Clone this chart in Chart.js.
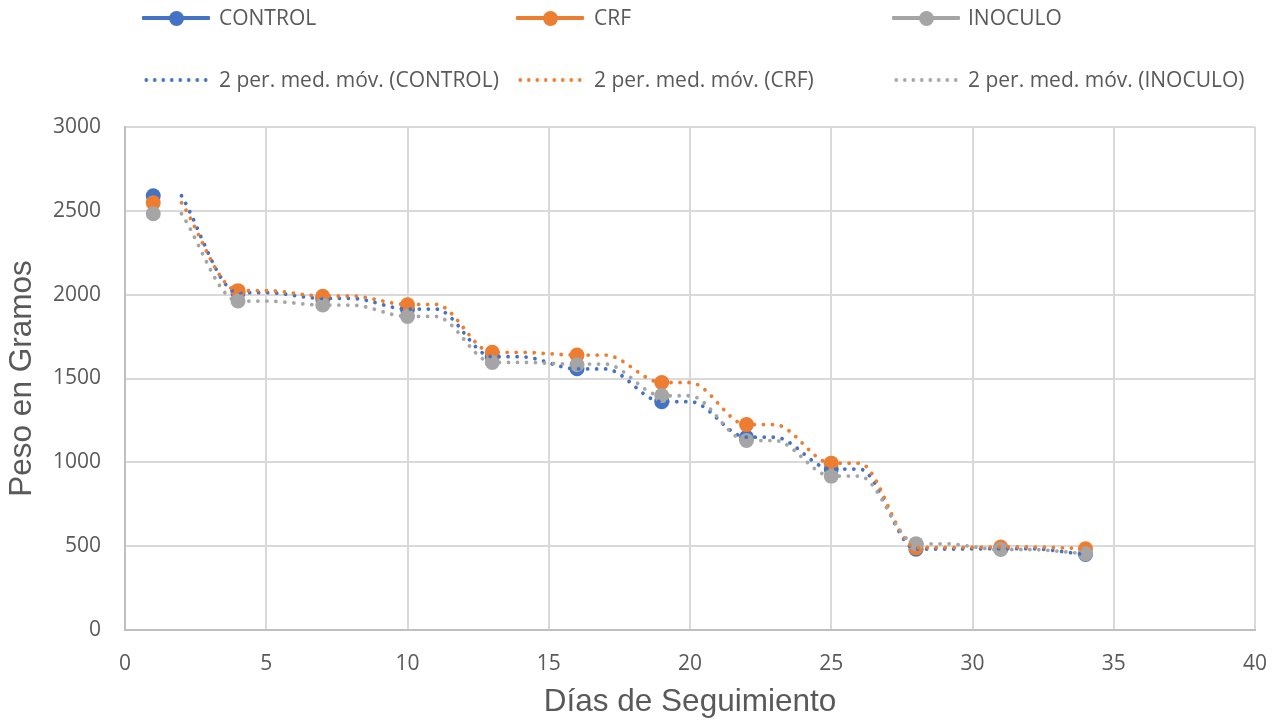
<!DOCTYPE html>
<html lang="es">
<head>
<meta charset="utf-8">
<title>Peso en Gramos por Días de Seguimiento</title>
<script src="https://cdn.jsdelivr.net/npm/chart.js@4.4.1/dist/chart.umd.min.js"></script>
<style>
  html, body { margin: 0; padding: 0; background: #ffffff; }
  #wrap { position: relative; width: 1274px; height: 721px; overflow: hidden; }
  #chart { position: absolute; left: 0; top: 0; }
  .lg { position: absolute; font-family: "Open Sans", sans-serif; font-size: 21px; color: #595959;
        line-height: 24px; white-space: nowrap; }
  .sw { position: absolute; height: 4px; border-radius: 1px; }
  .mk { position: absolute; width: 15px; height: 15px; border-radius: 50%; }
  .dt { position: absolute; height: 4px; background-size: 8.5px 4px; background-repeat: repeat-x; }
</style>
</head>
<body>
<div id="wrap">
  <canvas id="chart" width="1274" height="721"></canvas>
  <div id="legend"></div>
</div>
<script>
// Measurement days
const dias = [1, 4, 7, 10, 13, 16, 19, 22, 25, 28, 31, 34];

// Weight (g) per treatment
const control = [2590, 2010, 1975, 1912, 1630, 1558, 1362, 1150, 960, 482, 485, 450];
const crf     = [2548, 2024, 1990, 1940, 1656, 1640, 1476, 1225, 995, 490, 495, 485];
const inoculo = [2483, 1962, 1938, 1870, 1596, 1582, 1398, 1130, 918, 515, 480, 455];

// 2-period moving-average trendlines, as plotted
const mmX = [2, 4, 5, 7, 8, 10, 11, 13, 14, 16, 17, 19, 20, 22, 23, 25, 26, 28, 29, 31, 32, 34];
const mmControl = [2590, 2012, 2012, 1978, 1978, 1914, 1914, 1630, 1630, 1557, 1557, 1362, 1362, 1150, 1150, 960, 960, 483, 483, 485, 485, 450];
const mmCrf     = [2548, 2024, 2024, 1992, 1992, 1942, 1942, 1656, 1656, 1640, 1640, 1476, 1476, 1225, 1225, 995, 995, 492, 492, 495, 495, 485];
const mmInoculo = [2483, 1962, 1962, 1938, 1938, 1870, 1870, 1596, 1596, 1586, 1586, 1397, 1397, 1130, 1130, 918, 918, 514, 514, 480, 480, 455];

// Axis ticks
const xTicks = [0, 5, 10, 15, 20, 25, 30, 35, 40];
const yTicks = [0, 500, 1000, 1500, 2000, 2500, 3000];

const series = [
  { name: 'CONTROL', color: '#4472C4', y: control, mm: mmControl },
  { name: 'CRF',     color: '#ED7D31', y: crf,     mm: mmCrf },
  { name: 'INOCULO', color: '#A5A5A5', y: inoculo, mm: mmInoculo }
];

const pts = (xs, ys) => xs.map((x, i) => ({ x: x, y: ys[i] }));

const datasets = [];
series.forEach((s, i) => {
  datasets.push({
    label: s.name,
    data: pts(dias, s.y),
    showLine: false,
    pointRadius: 7.5,
    pointHoverRadius: 7.5,
    pointBorderWidth: 0,
    backgroundColor: s.color,
    borderColor: s.color,
    order: 10 - i
  });
});
series.forEach((s, i) => {
  datasets.push({
    label: '2 per. med. móv. (' + s.name + ')',
    data: pts(mmX, s.mm),
    showLine: true,
    pointRadius: 0,
    borderColor: s.color,
    borderWidth: 3.8,
    borderDash: [0.01, 9],
    borderCapStyle: 'round',
    cubicInterpolationMode: 'monotone',
    fill: false,
    order: 3 - i
  });
});

const tickFont = { family: '"Open Sans", sans-serif', size: 21 };
const titleFont = { family: '"Liberation Sans", Arial, sans-serif', size: 31.5 };
const plain = (v) => String(v);

new Chart(document.getElementById('chart'), {
  type: 'scatter',
  data: { datasets: datasets },
  options: {
    responsive: false,
    animation: false,
    layout: { padding: { top: 127, right: 19, left: 0, bottom: 0 } },
    plugins: { legend: { display: false }, tooltip: { enabled: false } },
    scales: {
      x: {
        type: 'linear', min: 0, max: 40,
        afterBuildTicks: (sc) => { sc.ticks = xTicks.map(v => ({ value: v })); },
        afterFit: (sc) => { sc.height = 91; sc.paddingLeft = 0; sc.paddingRight = 0; },
        ticks: { font: tickFont, color: '#595959', padding: 21, callback: plain },
        grid: { color: '#D9D9D9', lineWidth: 2, drawTicks: false },
        border: { color: '#BFBFBF', width: 2 },
        title: { display: true, text: 'Días de Seguimiento', font: titleFont, color: '#595959', padding: { top: 0, bottom: 0 } }
      },
      y: {
        type: 'linear', min: 0, max: 3000,
        afterBuildTicks: (sc) => { sc.ticks = yTicks.map(v => ({ value: v })); },
        afterFit: (sc) => { sc.width = 125; sc.paddingTop = 0; sc.paddingBottom = 0; },
        ticks: { font: tickFont, color: '#595959', padding: 24, callback: plain },
        grid: { color: '#D9D9D9', lineWidth: 2, drawTicks: false },
        border: { color: '#BFBFBF', width: 2 },
        title: { display: true, text: 'Peso en Gramos', font: titleFont, color: '#595959', padding: { top: 3, bottom: 0 } }
      }
    }
  }
});

// Legend: markers row and trendline row
const legend = document.getElementById('legend');
const cols = [142, 516, 892];
const textX = [219, 594, 968];
const rowY = [18, 80];
series.forEach((s, i) => {
  const sw = document.createElement('div');
  sw.className = 'sw';
  sw.style.cssText = `left:${cols[i]}px;top:${rowY[0] - 2}px;width:68px;background:${s.color};`;
  legend.appendChild(sw);
  const mk = document.createElement('div');
  mk.className = 'mk';
  mk.style.cssText = `left:${cols[i] + 34 - 7.5}px;top:${rowY[0] - 7.5}px;background:${s.color};`;
  legend.appendChild(mk);
  const t1 = document.createElement('div');
  t1.className = 'lg';
  t1.style.cssText = `left:${textX[i]}px;top:${rowY[0] - 13}px;`;
  t1.textContent = s.name;
  legend.appendChild(t1);

  const dt = document.createElement('div');
  dt.className = 'dt';
  dt.style.cssText = `left:${cols[i]}px;top:${rowY[1] - 2}px;width:68px;` +
    `background-image:radial-gradient(circle, ${s.color} 1.6px, rgba(255,255,255,0) 2.1px);`;
  legend.appendChild(dt);
  const t2 = document.createElement('div');
  t2.className = 'lg';
  t2.style.cssText = `left:${textX[i]}px;top:${rowY[1] - 13}px;`;
  t2.textContent = datasets[3 + i].label;
  legend.appendChild(t2);
});
</script>
</body>
</html>
